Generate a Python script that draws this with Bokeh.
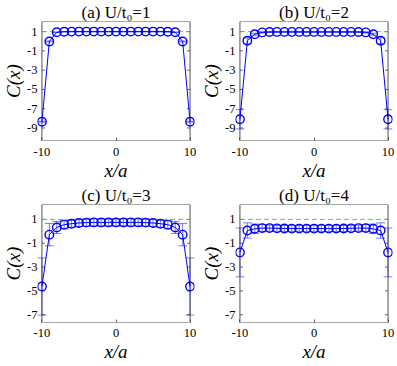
from bokeh.plotting import figure
from bokeh.layouts import row, column
from bokeh.models import ColumnDataSource, Whisker, TeeHead, FixedTicker
from bokeh.embed import file_html
from bokeh.resources import INLINE

xs = list(range(-10, 11))

titles = ["(a) U/t\u2080=1", "(b) U/t\u2080=2", "(c) U/t\u2080=3", "(d) U/t\u2080=4"]

c_a = [-8.35, -0.02, 0.93, 0.99, 1.0, 1.0, 1.0, 1.0, 1.0, 1.0, 1.0,
       1.0, 1.0, 1.0, 1.0, 1.0, 1.0, 0.99, 0.93, -0.02, -8.35]
e_a = [0.05, 0.05, 0.03, 0.02, 0.02, 0.02, 0.02, 0.02, 0.02, 0.02, 0.02,
       0.02, 0.02, 0.02, 0.02, 0.02, 0.02, 0.02, 0.03, 0.05, 0.05]

c_b = [-8.1, 0.05, 0.73, 0.92, 0.96, 0.97, 0.97, 0.97, 0.97, 0.97, 0.97,
       0.97, 0.97, 0.97, 0.97, 0.97, 0.96, 0.92, 0.73, 0.05, -8.1]
e_b = [1.0, 0.3, 0.1, 0.06, 0.05, 0.05, 0.05, 0.05, 0.05, 0.05, 0.05,
       0.05, 0.05, 0.05, 0.05, 0.05, 0.05, 0.06, 0.1, 0.3, 1.0]

c_c = [-4.63, -0.28, 0.32, 0.56, 0.64, 0.7, 0.73, 0.75, 0.75, 0.75, 0.75,
       0.75, 0.75, 0.75, 0.73, 0.7, 0.64, 0.56, 0.32, -0.28, -4.63]
e_c = [2.4, 0.94, 0.5, 0.35, 0.3, 0.3, 0.3, 0.3, 0.3, 0.3, 0.3,
       0.3, 0.3, 0.3, 0.3, 0.3, 0.3, 0.35, 0.5, 0.94, 2.4]

c_d = [-1.77, 0.07, 0.21, 0.27, 0.27, 0.25, 0.24, 0.23, 0.23, 0.23, 0.23,
       0.23, 0.23, 0.23, 0.24, 0.25, 0.27, 0.27, 0.21, 0.07, -1.77]
e_d = [2.05, 0.64, 0.4, 0.3, 0.25, 0.25, 0.25, 0.25, 0.25, 0.25, 0.25,
       0.25, 0.25, 0.25, 0.25, 0.25, 0.25, 0.3, 0.4, 0.64, 2.05]

ref_level = 1.0
x_lim = (-10, 10)
x_pad = 0.6
y_lim_ab = (-10.3, 2.05)
y_lim_cd = (-7.65, 2.25)
x_ticks = [-10, 0, 10]
y_ticks_ab = [1, -1, -3, -5, -7, -9]
y_ticks_cd = [1, -1, -3, -5, -7]

BLUE = "#0000ff"
SERIF = "Liberation Serif"
AX = "#262626"
FW = 157
BOX_PX = FW * (x_lim[1] - x_lim[0]) / (x_lim[1] - x_lim[0] + 2 * x_pad)


def panel(title, ys, es, yl, yt, fh, bl, br, bt, bb, tick_sd, lab_sd):
    p = figure(frame_width=FW, frame_height=fh,
               x_range=(x_lim[0] - x_pad, x_lim[1] + x_pad), y_range=yl,
               output_backend="svg", toolbar_location=None)
    p.min_border = 0
    p.min_border_left = bl
    p.min_border_right = br
    p.min_border_top = bt
    p.min_border_bottom = bb
    p.title.text = title
    p.title.align = "center"
    p.title.text_font = SERIF
    p.title.text_font_size = "17px"
    p.title.text_font_style = "normal"
    p.title.text_color = "#000000"
    p.title.standoff = 0
    p.title.offset = 0
    p.grid.visible = False
    p.outline_line_color = None
    p.background_fill_color = "white"
    p.border_fill_color = "white"

    for ax in (p.xaxis[0], p.yaxis[0]):
        ax.axis_line_color = None
        ax.minor_tick_line_color = None
        ax.major_label_text_font = SERIF
        ax.major_label_text_font_size = "12.5px"
        ax.major_label_text_color = "#000000"
        ax.axis_label_text_font = SERIF
        ax.axis_label_text_font_size = "19px"
        ax.axis_label_text_font_style = "italic"
        ax.axis_label_text_color = "#000000"
        ax.axis_label_standoff = 0

    p.xaxis.major_tick_line_color = AX
    p.xaxis.major_tick_line_width = 0.7
    p.xaxis.major_tick_in = 3
    p.xaxis.major_tick_out = 0
    p.xaxis.major_label_standoff = tick_sd
    p.xaxis.axis_label_standoff = lab_sd
    p.yaxis.major_tick_line_color = None
    p.yaxis.major_tick_in = 0
    p.yaxis.major_tick_out = 0
    p.yaxis.major_label_standoff = 0

    p.xaxis.ticker = FixedTicker(ticks=x_ticks)
    p.xaxis.major_label_overrides = {t: "%d" % t for t in x_ticks}
    p.yaxis.ticker = FixedTicker(ticks=yt)
    p.yaxis.major_label_overrides = {t: "%d" % t for t in yt}
    p.xaxis.axis_label = "x/a"
    p.yaxis.axis_label = "C(x)"

    # axes box at the data limits
    p.quad(left=[x_lim[0]], right=[x_lim[1]], bottom=[yl[0]], top=[yl[1]],
           fill_color=None, line_color=AX, line_width=0.8)
    # inward y ticks on both sides of the box, 3 px long
    tl = 3.0 * (x_lim[1] - x_lim[0]) / BOX_PX
    p.segment(x0=[x_lim[0]] * len(yt), x1=[x_lim[0] + tl] * len(yt), y0=yt, y1=yt,
              line_color=AX, line_width=0.7)
    p.segment(x0=[x_lim[1]] * len(yt), x1=[x_lim[1] - tl] * len(yt), y0=yt, y1=yt,
              line_color=AX, line_width=0.7)

    src = ColumnDataSource(dict(x=xs, y=ys,
                                lo=[y - e for y, e in zip(ys, es)],
                                hi=[y + e for y, e in zip(ys, es)]))

    p.segment(x0=[x_lim[0]], x1=[x_lim[1]], y0=[ref_level], y1=[ref_level],
              line_color="#22dd22", line_dash="5 3", line_width=0.9)

    w = Whisker(source=src, base="x", lower="lo", upper="hi",
                line_color=BLUE, line_alpha=0.65, line_width=0.8,
                upper_head=TeeHead(size=9, line_color=BLUE, line_alpha=0.65, line_width=0.8),
                lower_head=TeeHead(size=9, line_color=BLUE, line_alpha=0.65, line_width=0.8))
    p.add_layout(w)

    p.line("x", "y", source=src, line_color=BLUE, line_width=1.0)
    p.scatter("x", "y", source=src, marker="circle", size=8.5,
              line_color=BLUE, line_width=1.4, fill_color=None)
    return p


pa = panel(titles[0], c_a, e_a, y_lim_ab, y_ticks_ab, 119, 30, 4, 14, 40, 7, 1)
pb = panel(titles[1], c_b, e_b, y_lim_ab, y_ticks_ab, 119, 30, 4, 14, 40, 7, 1)
pc = panel(titles[2], c_c, e_c, y_lim_cd, y_ticks_cd, 118, 30, 4, 14, 36, 6, 1)
pd = panel(titles[3], c_d, e_d, y_lim_cd, y_ticks_cd, 118, 30, 4, 14, 36, 6, 1)

layout = column(row(pa, pb), row(pc, pd))

open("out.html", "w").write(file_html(layout, INLINE))
